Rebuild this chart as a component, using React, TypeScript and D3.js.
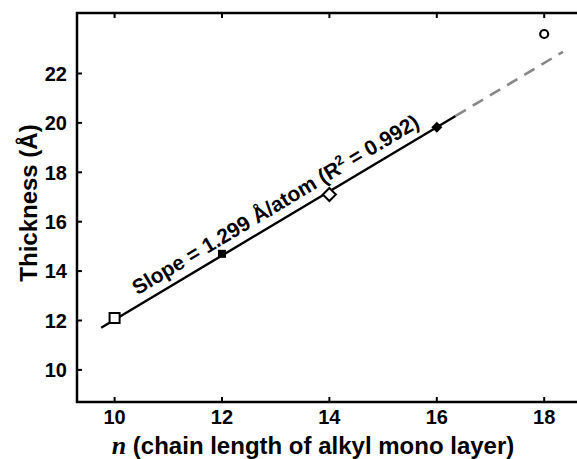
import React from "react";
import * as d3 from "d3";

// chain length n and measured thickness (Å)
const chainN = [10, 12, 14, 16, 18];
const thickness = [12.1, 14.7, 17.1, 19.82, 23.6];
const markerKinds = ["openSquare", "filledSquare", "openDiamond", "filledDiamond", "openCircle"];

// linear fit
const slope = 1.299;
const intercept = -0.957;
const fitSolid = [9.75, 16.35];
const fitDashed = [16.35, 18.35];

const xTicks = [10, 12, 14, 16, 18];
const yTicks = [10, 12, 14, 16, 18, 20, 22];

const W = 577;
const H = 459;
const FONT = "'Liberation Sans', Arial, sans-serif";

const App = () => {
	const left = 77;
	const top = 13;
	const bottom = 402;

	const x = d3.scaleLinear().domain([9.3, 18.6]).range([left, left + 9.3 * 53.7]);
	const y = d3.scaleLinear().domain([8.7, 24.45]).range([bottom, top]);

	const fit = (n) => slope * n + intercept;
	const line = d3
		.line()
		.x((d) => x(d))
		.y((d) => y(fit(d)));

	// label angle follows the fit line in pixel space
	const angle = (Math.atan2(y(fit(16)) - y(fit(10)), x(16) - x(10)) * 180) / Math.PI;
	const labelN = 13.15;
	const off = 9;
	const rad = (angle * Math.PI) / 180;
	const lx = x(labelN) + off * Math.sin(rad);
	const ly = y(fit(labelN)) - off * Math.cos(rad);

	const marker = (kind, cx, cy, i) => {
		if (kind === "openSquare")
			return <rect key={i} x={cx - 5} y={cy - 5} width={10} height={10} fill="white" stroke="black" strokeWidth={2} />;
		if (kind === "filledSquare")
			return <rect key={i} x={cx - 4} y={cy - 4} width={8} height={8} fill="black" />;
		if (kind === "openDiamond")
			return (
				<path key={i} d={`M${cx},${cy - 6.5}L${cx + 6.5},${cy}L${cx},${cy + 6.5}L${cx - 6.5},${cy}Z`} fill="white" stroke="black" strokeWidth={2} />
			);
		if (kind === "filledDiamond")
			return <path key={i} d={`M${cx},${cy - 5.5}L${cx + 5.5},${cy}L${cx},${cy + 5.5}L${cx - 5.5},${cy}Z`} fill="black" />;
		return <circle key={i} cx={cx} cy={cy} r={4} fill="white" stroke="black" strokeWidth={2.2} />;
	};

	return (
		<svg width={W} height={H} style={{ position: "absolute", left: 0, top: 0, background: "white" }}>
			{/* frame: left, top, bottom */}
			<path d={`M${W},${top}H${left}V${bottom}H${W}`} fill="none" stroke="black" strokeWidth={2.5} />

			{xTicks.map((t) => (
				<g key={"xt" + t}>
					<line x1={x(t)} x2={x(t)} y1={bottom} y2={bottom - 5} stroke="black" strokeWidth={2} />
					<line x1={x(t)} x2={x(t)} y1={top} y2={top + 5} stroke="black" strokeWidth={2} />
					<text x={x(t)} y={424} textAnchor="middle" fontFamily={FONT} fontWeight="bold" fontSize={20}>
						{t}
					</text>
				</g>
			))}

			{yTicks.map((t) => (
				<g key={"yt" + t}>
					<line x1={left} x2={left + 5} y1={y(t)} y2={y(t)} stroke="black" strokeWidth={2} />
					<text x={67} y={y(t)} dy="0.36em" textAnchor="end" fontFamily={FONT} fontWeight="bold" fontSize={20}>
						{t}
					</text>
				</g>
			))}

			<path d={line(fitSolid)} fill="none" stroke="black" strokeWidth={2.4} />
			<path d={line(fitDashed)} fill="none" stroke="#888" strokeWidth={2.6} strokeDasharray="12,8" />

			{chainN.map((n, i) => marker(markerKinds[i], x(n), y(thickness[i]), i))}

			<text
				transform={`translate(${lx},${ly}) rotate(${angle})`}
				textAnchor="middle"
				fontFamily={FONT}
				fontWeight="bold"
				fontSize={21}
			>
				Slope = 1.299 Å/atom (R<tspan dy={-8} fontSize={14}>2</tspan>
				<tspan dy={8}> = 0.992)</tspan>
			</text>

			<text
				transform={`translate(37,203) rotate(-90)`}
				textAnchor="middle"
				fontFamily={FONT}
				fontWeight="bold"
				fontSize={24}
			>
				Thickness (Å)
			</text>

			<text x={313} y={454} textAnchor="middle" fontFamily={FONT} fontWeight="bold" fontSize={24}>
				<tspan fontFamily="'Liberation Serif', 'Times New Roman', serif" fontStyle="italic" fontSize={26}>
					n
				</tspan>{" "}
				(chain length of alkyl mono layer)
			</text>
		</svg>
	);
};

export default App;
